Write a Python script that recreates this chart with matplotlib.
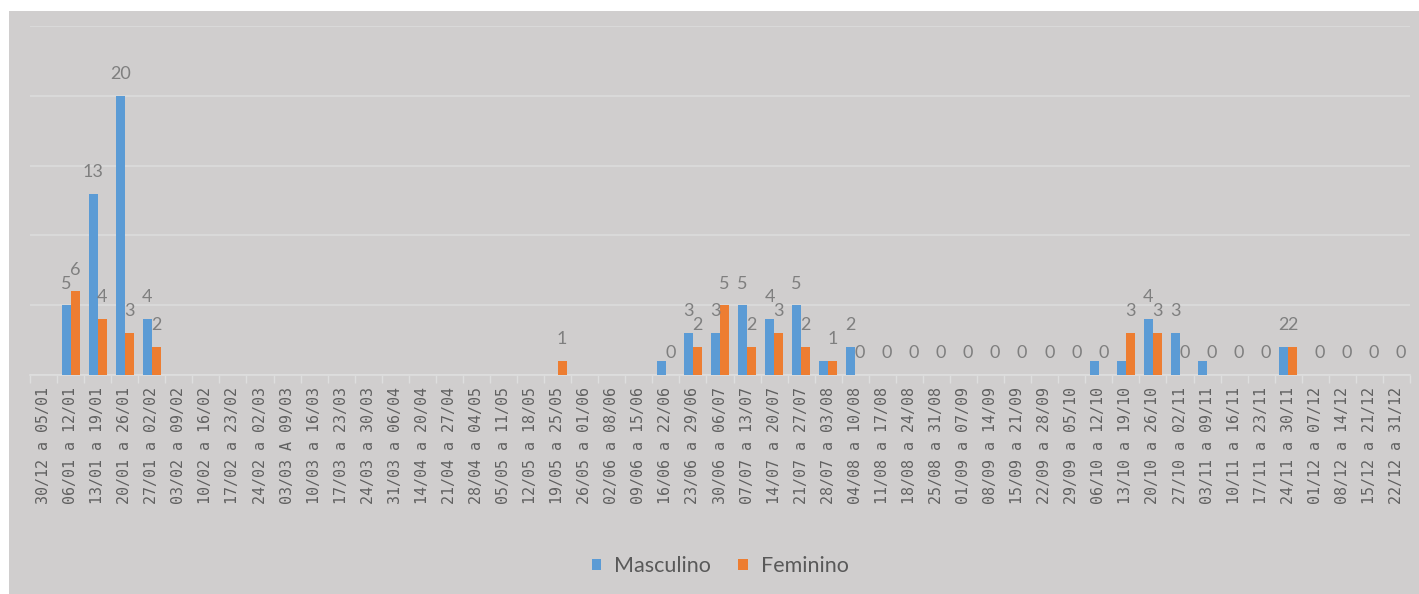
import numpy as np
import matplotlib
matplotlib.use("Agg")
import matplotlib.pyplot as plt
from matplotlib.patches import Rectangle
from matplotlib.ticker import FixedLocator, NullFormatter

nan = np.nan

weeks = ["30/12 a 05/01", "06/01 a 12/01", "13/01 a 19/01", "20/01 a 26/01", "27/01 a 02/02",
         "03/02 a 09/02", "10/02 a 16/02", "17/02 a 23/02", "24/02 a 02/03", "03/03 A 09/03",
         "10/03 a 16/03", "17/03 a 23/03", "24/03 a 30/03", "31/03 a 06/04", "14/04 a 20/04",
         "21/04 a 27/04", "28/04 a 04/05", "05/05 a 11/05", "12/05 a 18/05", "19/05 a 25/05",
         "26/05 a 01/06", "02/06 a 08/06", "09/06 a 15/06", "16/06 a 22/06", "23/06 a 29/06",
         "30/06 a 06/07", "07/07 a 13/07", "14/07 a 20/07", "21/07 a 27/07", "28/07 a 03/08",
         "04/08 a 10/08", "11/08 a 17/08", "18/08 a 24/08", "25/08 a 31/08", "01/09 a 07/09",
         "08/09 a 14/09", "15/09 a 21/09", "22/09 a 28/09", "29/09 a 05/10", "06/10 a 12/10",
         "13/10 a 19/10", "20/10 a 26/10", "27/10 a 02/11", "03/11 a 09/11", "10/11 a 16/11",
         "17/11 a 23/11", "24/11 a 30/11", "01/12 a 07/12", "08/12 a 14/12", "15/12 a 21/12",
         "22/12 a 31/12"]

masculino = [nan, 5, 13, 20, 4,
             nan, nan, nan, nan, nan, nan, nan, nan, nan, nan, nan, nan, nan, nan,
             nan, nan, nan, nan,
             1, 3, 3, 5, 4, 5, 1, 2,
             nan, nan, nan, nan, nan, nan, nan, nan,
             1, 1, 4, 3, 1, nan, nan, 2, nan, nan, nan, nan]

feminino = [nan, 6, 4, 3, 2,
            nan, nan, nan, nan, nan, nan, nan, nan, nan, nan, nan, nan, nan, nan,
            1, nan, nan, nan,
            0, 2, 5, 2, 3, 2, 1, 0,
            0, 0, 0, 0, 0, 0, 0, 0,
            0, 3, 3, 0, 0, 0, 0, 2, 0, 0, 0, 0]

masc_labels = ["", "5", "13", "20", "4",
               "", "", "", "", "", "", "", "", "", "", "", "", "", "",
               "", "", "", "",
               "", "3", "3", "5", "4", "5", "", "2",
               "", "", "", "", "", "", "", "",
               "", "", "4", "3", "", "", "", "2", "", "", "", ""]

fem_labels = ["", "6", "4", "3", "2",
              "", "", "", "", "", "", "", "", "", "", "", "", "", "",
              "1", "", "", "",
              "0", "2", "5", "2", "3", "2", "1", "0",
              "0", "0", "0", "0", "0", "0", "0", "0",
              "0", "3", "3", "0", "0", "0", "0", "2", "0", "0", "0", "0"]

W, H = 1419, 594
fig = plt.figure(figsize=(W / 100, H / 100), dpi=100, facecolor="white")
fig.patches.append(Rectangle((9 / W, 0), 1 - 9 / W, 1 - 11 / H, transform=fig.transFigure,
                             facecolor="#D0CECE", edgecolor="none", zorder=-10))

ax = fig.add_axes([30 / W, 1 - 375 / H, 1380 / W, 349 / H])
ax.set_facecolor("none")

x = np.arange(len(weeks))
bw = 0.333
blue = "#5B9BD5"
orange = "#ED7D31"
b1 = ax.bar(x - bw / 2, masculino, bw, color=blue, label="Masculino", zorder=3)
b2 = ax.bar(x + bw / 2, feminino, bw, color=orange, label="Feminino", zorder=3)

lab_kw = dict(textcoords="offset points", ha="center", va="baseline",
              fontsize=13, color="#7F7F7F", family="Lato", zorder=4)
for i in range(len(weeks)):
    if masc_labels[i]:
        ax.annotate(masc_labels[i], (x[i] - bw / 2, masculino[i]), xytext=(0, 12), **lab_kw)
    if fem_labels[i]:
        ax.annotate(fem_labels[i], (x[i] + bw / 2, feminino[i]), xytext=(0, 12), **lab_kw)

ax.set_xlim(-0.5, len(weeks) - 0.5)
ax.set_ylim(0, 25)
ax.set_yticks([0, 5, 10, 15, 20, 25])
ax.yaxis.grid(True, color="#DCDCDC", linewidth=1.2, zorder=0)
ax.tick_params(axis="y", length=0, labelleft=False)

ax.set_xticks(x)
ax.set_xticklabels(weeks, rotation=90, fontsize=10.8, color="#606060", family="DejaVu Sans Mono")
ax.tick_params(axis="x", which="major", length=0, pad=9)
ax.xaxis.set_minor_locator(FixedLocator(np.arange(-0.5, len(weeks), 1)))
ax.xaxis.set_minor_formatter(NullFormatter())
ax.tick_params(axis="x", which="minor", length=6, color="#DEDEDE", width=1)

for s in ["top", "right", "left"]:
    ax.spines[s].set_visible(False)
ax.spines["bottom"].set_color("#DEDEDE")
ax.spines["bottom"].set_linewidth(1.2)

fig.legend(handles=[b1, b2], labels=["Masculino", "Feminino"], loc="center",
           bbox_to_anchor=(720 / W, 1 - 566 / H), ncol=2, frameon=False,
           handlelength=0.45, handleheight=0.45, handletextpad=0.6, columnspacing=1.25,
           prop={"family": "Lato", "size": 15.5}, labelcolor="#595959")

fig.savefig("out.png", dpi=100, facecolor="white")
